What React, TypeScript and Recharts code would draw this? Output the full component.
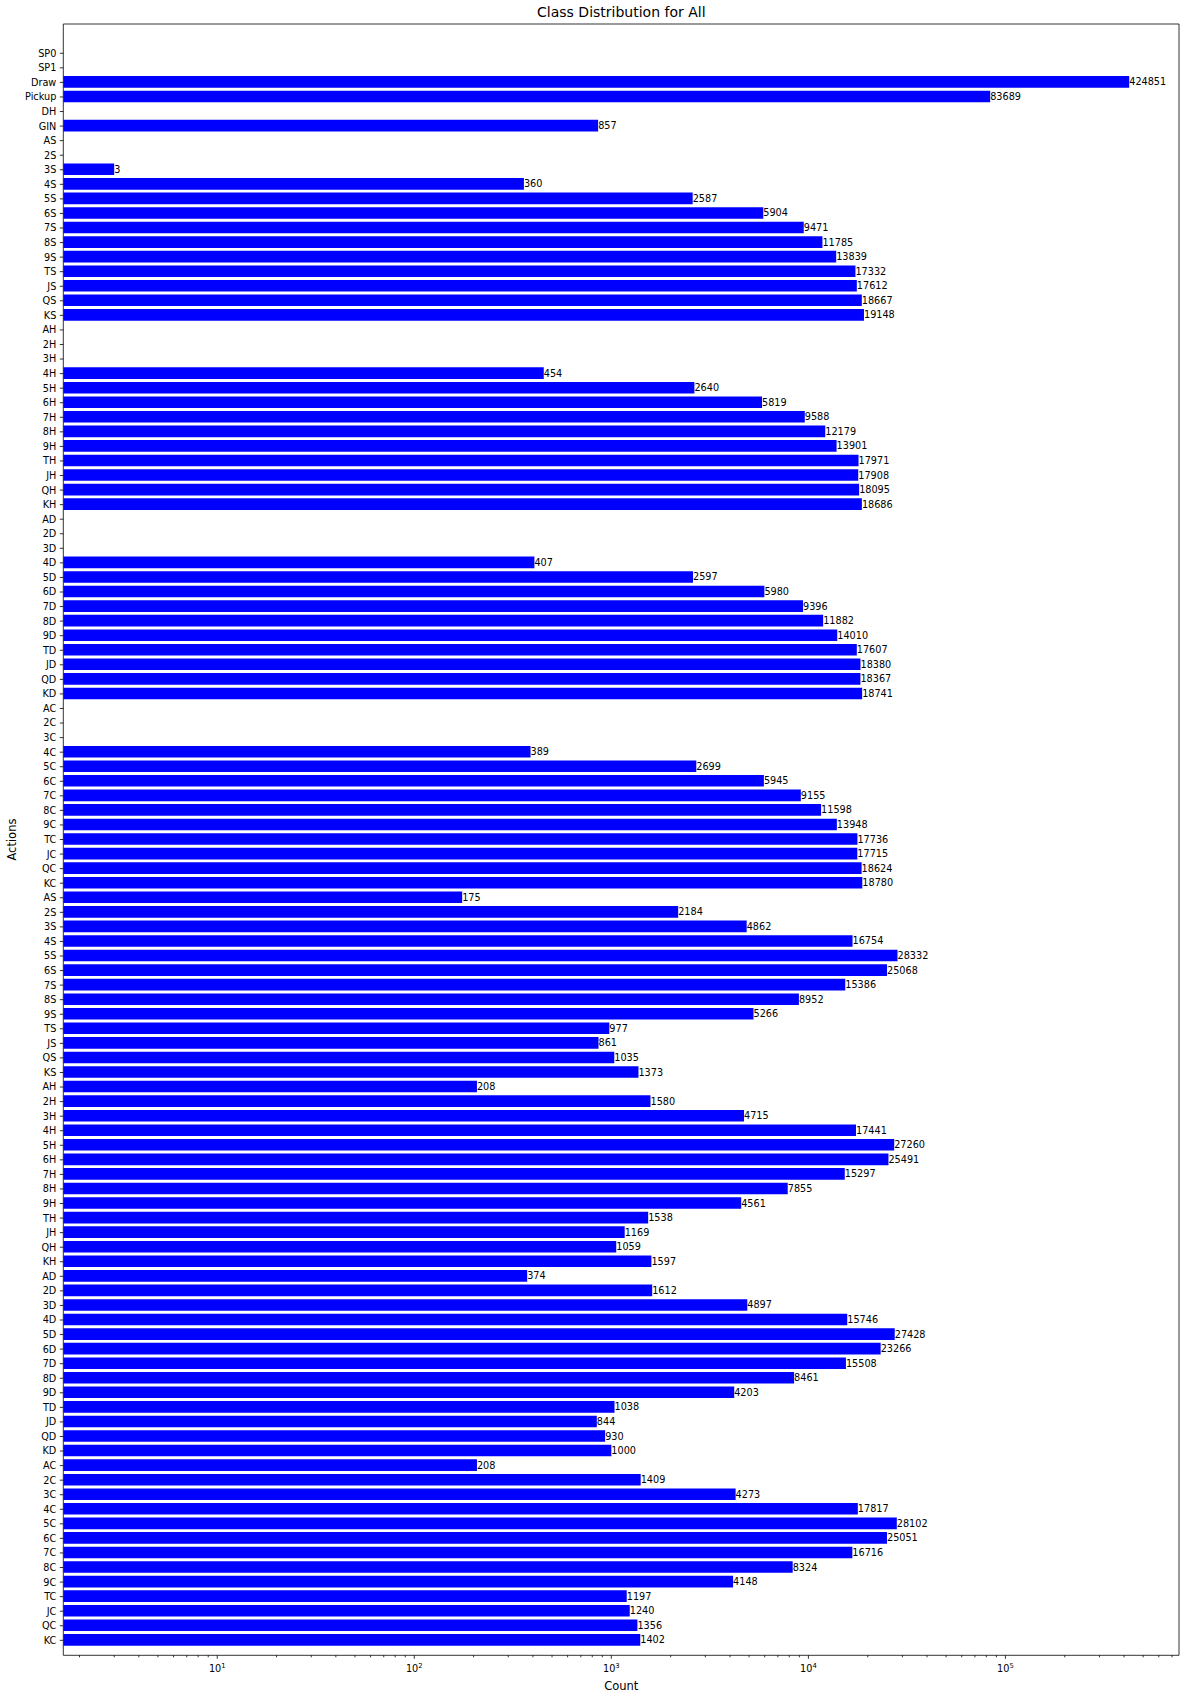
import React from 'react';
import { BarChart, Bar, XAxis, YAxis, LabelList } from 'recharts';

const FONT = '"DejaVu Sans", sans-serif';
const SMALL = 9.7;

// first six actions, then two rounds of the 52 cards
const specialLabels = ['SP0', 'SP1', 'Draw', 'Pickup', 'DH', 'GIN'];
const specialCounts = [0, 0, 424851, 83689, 0, 857];

const ranks = ['A', '2', '3', '4', '5', '6', '7', '8', '9', 'T', 'J', 'Q', 'K'];
const suits = ['S', 'H', 'D', 'C'];

// first block of cards (A-K per suit)
const firstSpades = [0, 0, 3, 360, 2587, 5904, 9471, 11785, 13839, 17332, 17612, 18667, 19148];
const firstHearts = [0, 0, 0, 454, 2640, 5819, 9588, 12179, 13901, 17971, 17908, 18095, 18686];
const firstDiamonds = [0, 0, 0, 407, 2597, 5980, 9396, 11882, 14010, 17607, 18380, 18367, 18741];
const firstClubs = [0, 0, 0, 389, 2699, 5945, 9155, 11598, 13948, 17736, 17715, 18624, 18780];

// second block of cards
const secondSpades = [175, 2184, 4862, 16754, 28332, 25068, 15386, 8952, 5266, 977, 861, 1035, 1373];
const secondHearts = [208, 1580, 4715, 17441, 27260, 25491, 15297, 7855, 4561, 1538, 1169, 1059, 1597];
const secondDiamonds = [374, 1612, 4897, 15746, 27428, 23266, 15508, 8461, 4203, 1038, 844, 930, 1000];
const secondClubs = [208, 1409, 4273, 17817, 28102, 25051, 16716, 8324, 4148, 1197, 1240, 1356, 1402];

const majorTicks = [10, 100, 1000, 10000, 100000];
const minorMultipliers = [2, 3, 4, 5, 6, 7, 8, 9];
const xDomain = [1.655, 760000];

const cardLabels = suits.flatMap((s) => ranks.map((r) => r + s));
const labels = [...specialLabels, ...cardLabels, ...cardLabels];
const counts = [
  ...specialCounts,
  ...firstSpades,
  ...firstHearts,
  ...firstDiamonds,
  ...firstClubs,
  ...secondSpades,
  ...secondHearts,
  ...secondDiamonds,
  ...secondClubs,
];

// zero counts can't sit on a log axis, so they're left empty
const data = labels.map((label, i) => ({
  id: i,
  label,
  count: counts[i] > 0 ? counts[i] : null,
}));

const xTicks: number[] = [];
[1, 10, 100, 1000, 10000, 100000].forEach((p) => {
  minorMultipliers.forEach((m) => {
    const v = m * p;
    if (v >= xDomain[0] && v <= xDomain[1]) xTicks.push(v);
  });
});
majorTicks.forEach((v) => xTicks.push(v));
xTicks.sort((a, b) => a - b);

const LogTick = ({ x, y, payload }: any) => {
  const v = payload.value;
  const isMajor = majorTicks.includes(v);
  const exp = Math.round(Math.log10(v));
  return (
    <g>
      <line x1={x} x2={x} y1={y} y2={y + (isMajor ? 3.5 : 2)} stroke="#000" strokeWidth={0.8} />
      {isMajor && (
        <text x={x} y={y + 17} textAnchor="middle" fontSize={SMALL} fontFamily={FONT} fill="#000">
          <tspan>10</tspan>
          <tspan dy={-4.2} fontSize={6.8}>
            {exp}
          </tspan>
        </text>
      )}
    </g>
  );
};

const ValueLabel = (props: any) => {
  const { x, y, width, height, value } = props;
  if (value == null) return null;
  return (
    <text
      x={x + width}
      y={y + height / 2}
      dominantBaseline="central"
      fontSize={SMALL}
      fontFamily={FONT}
      fill="#000"
    >
      {value}
    </text>
  );
};

export default function App() {
  return (
    <div style={{ position: 'relative', width: 1186, height: 1700, background: '#fff' }}>
      <style>{'body { margin: 0; }'}</style>
      <BarChart
        width={1186}
        height={1700}
        data={data}
        layout="vertical"
        margin={{ top: 23, right: 6, bottom: 0, left: 0 }}
      >
        <XAxis
          type="number"
          scale="log"
          dataKey="count"
          domain={xDomain}
          allowDataOverflow
          ticks={xTicks}
          interval={0}
          height={44.7}
          tickSize={0}
          tickMargin={0}
          tickLine={false}
          axisLine={{ stroke: '#000', strokeWidth: 0.8 }}
          tick={<LogTick />}
        />
        <XAxis
          xAxisId="top"
          orientation="top"
          type="number"
          scale="log"
          dataKey="count"
          domain={xDomain}
          allowDataOverflow
          height={1}
          tick={false}
          tickLine={false}
          axisLine={{ stroke: '#000', strokeWidth: 0.8 }}
        />
        <YAxis
          type="category"
          dataKey="id"
          width={63.3}
          interval={0}
          padding={{ top: 22, bottom: 7.7 }}
          tickSize={3.5}
          tickMargin={3.5}
          tickFormatter={(v: number) => labels[v]}
          tick={{ fontSize: SMALL, fill: '#000', fontFamily: FONT }}
          tickLine={{ stroke: '#000', strokeWidth: 0.8 }}
          axisLine={{ stroke: '#000', strokeWidth: 0.8 }}
        />
        <YAxis
          yAxisId="right"
          orientation="right"
          type="category"
          dataKey="id"
          width={1}
          tick={false}
          tickLine={false}
          axisLine={{ stroke: '#000', strokeWidth: 0.8 }}
        />
        <Bar dataKey="count" fill="#0000ff" barSize={11.6} isAnimationActive={false}>
          <LabelList dataKey="count" content={<ValueLabel />} />
        </Bar>
      </BarChart>
      <svg
        width={1186}
        height={1700}
        style={{ position: 'absolute', left: 0, top: 0, pointerEvents: 'none' }}
      >
        <text x={621.3} y={17} textAnchor="middle" fontSize={14} fontFamily={FONT} fill="#000">
          Class Distribution for All
        </text>
        <text x={621.3} y={1690} textAnchor="middle" fontSize={11.5} fontFamily={FONT} fill="#000">
          Count
        </text>
        <text
          x={0}
          y={0}
          transform="translate(16, 839.6) rotate(-90)"
          textAnchor="middle"
          fontSize={11.5}
          fontFamily={FONT}
          fill="#000"
        >
          Actions
        </text>
      </svg>
    </div>
  );
}
